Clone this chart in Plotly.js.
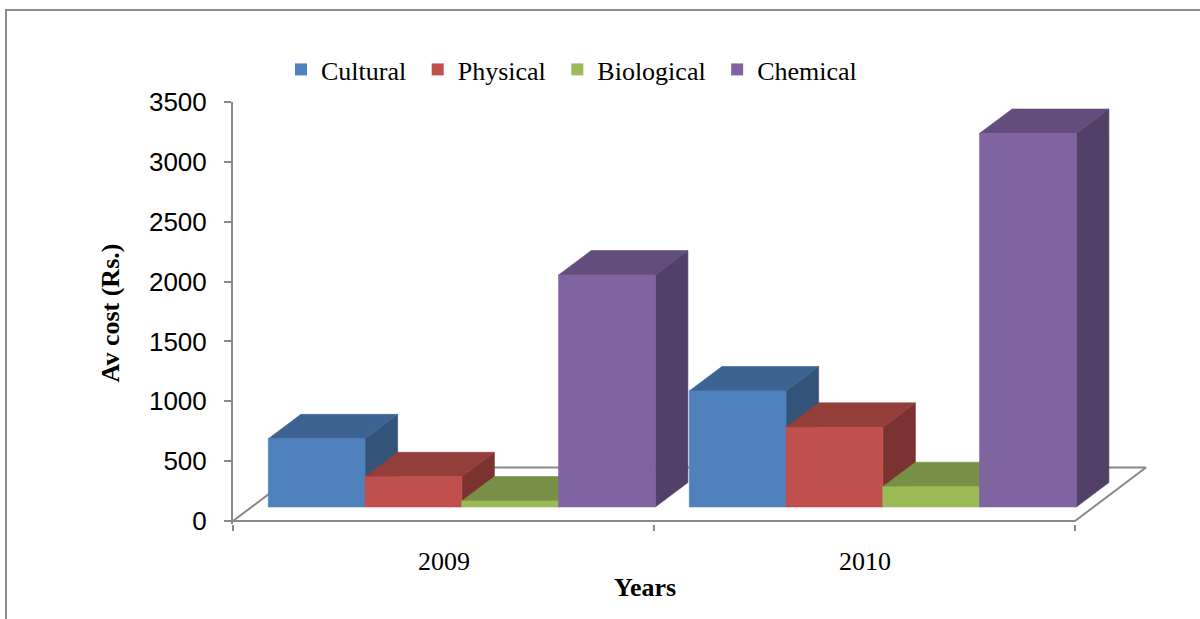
<!DOCTYPE html>
<html>
<head>
<meta charset="utf-8">
<script src="https://cdn.plot.ly/plotly-3.0.1.min.js"></script>
<style>
  html, body { margin: 0; padding: 0; background: #ffffff; }
  #chart { width: 1200px; height: 619px; }
</style>
</head>
<body>
<div id="chart"></div>
<script>
// ---------------- data ----------------
const categories = ['2009', '2010'];
const seriesNames = ['Cultural', 'Physical', 'Biological', 'Chemical'];
const cultural   = [570, 970];
const physical   = [253, 666];
const biological = [50, 170];
const chemical   = [1938, 3121];
const yTickValues = [0, 500, 1000, 1500, 2000, 2500, 3000, 3500];

const seriesValues = [cultural, physical, biological, chemical];

// ---------------- styles / layout geometry ----------------
const frontColors = ['#4F81BD', '#C0504D', '#9BBB59', '#8064A2'];
function shade(hex, k) {
  const r = Math.round(parseInt(hex.slice(1, 3), 16) * k);
  const g = Math.round(parseInt(hex.slice(3, 5), 16) * k);
  const b = Math.round(parseInt(hex.slice(5, 7), 16) * k);
  return 'rgb(' + r + ',' + g + ',' + b + ')';
}
const W = 1200, H = 619, ML = 233, MR = 40, MT = 102, MB = 95;
const plotW = W - ML - MR, plotH = H - MT - MB;
const catPx = 421;                 // pixels per category slot
const yMaxV = 3500;
const yPxPerUnit = 419 / yMaxV;
const xMax = plotW / catPx;
const yMin = -(plotH - 419) / yPxPerUnit;
const ux = px => px / catPx;
const uy = px => px / yPxPerUnit;

// oblique projection of depth
const floorDx = ux(71), floorDy = uy(53.5);
const frontDx = ux(18.3), frontDy = uy(14);
const depthDx = ux(32.6), depthDy = uy(24.4);
const gap = 17 / catPx;
const barW = (1 - 2 * gap) / seriesNames.length;
const nCat = categories.length;

const gray = '#898989';
const traces = [];

// legend entries (empty bars)
seriesNames.forEach((name, j) => {
  traces.push({
    type: 'bar', x: [null], y: [null], name: name + '\u00a0',
    marker: { color: frontColors[j] }, showlegend: true, hoverinfo: 'skip'
  });
});

// floor outline (front edge doubles as the category axis line)
traces.push({
  type: 'scatter', mode: 'lines', showlegend: false, hoverinfo: 'skip',
  x: [0, nCat, nCat + floorDx, floorDx, 0],
  y: [0, 0, floorDy, floorDy, 0],
  line: { color: gray, width: 2 }
});

function poly(xs, ys, color) {
  traces.push({
    type: 'scatter', mode: 'lines', fill: 'toself', showlegend: false,
    hoverinfo: 'skip',
    x: xs.concat([xs[0]]), y: ys.concat([ys[0]]),
    fillcolor: color, line: { width: 0.6, color: color }
  });
}

for (let i = 0; i < nCat; i++) {
  for (let j = 0; j < seriesNames.length; j++) {
    const v = seriesValues[j][i];
    const x0 = i + gap + j * barW + frontDx;
    const x1 = x0 + barW;
    const y0 = frontDy;
    const y1 = frontDy + v;
    // right side face
    poly([x1, x1 + depthDx, x1 + depthDx, x1],
         [y0, y0 + depthDy, y1 + depthDy, y1], shade(frontColors[j], 0.64));
    // top face
    poly([x0, x1, x1 + depthDx, x0 + depthDx],
         [y1, y1, y1 + depthDy, y1 + depthDy], shade(frontColors[j], 0.77));
    // front face
    poly([x0, x1, x1, x0], [y0, y0, y1, y1], frontColors[j]);
  }
}

const annotations = categories.map((c, i) => ({
  text: c, x: i + 0.5, xref: 'x', y: -(561 - (H - MB)) / plotH, yref: 'paper',
  yanchor: 'middle', xanchor: 'center', showarrow: false,
  font: { family: 'Liberation Serif', size: 26, color: '#000' }
}));
annotations.push({
  text: '<b>Years</b>', x: (645 - ML) / catPx, xref: 'x',
  y: -(587 - (H - MB)) / plotH, yref: 'paper',
  yanchor: 'middle', xanchor: 'center', showarrow: false,
  font: { family: 'Liberation Serif', size: 26, color: '#000' }
});

const layout = {
  width: W, height: H,
  margin: { l: ML, r: MR, t: MT, b: MB, pad: 0 },
  paper_bgcolor: '#ffffff', plot_bgcolor: 'rgba(0,0,0,0)',
  showlegend: true,
  legend: {
    orientation: 'h', x: (281 - ML) / plotW, xanchor: 'left',
    y: ((H - MB) - 69.5) / plotH, yanchor: 'middle',
    font: { family: 'Liberation Serif', size: 26, color: '#000' },
    bgcolor: 'rgba(0,0,0,0)', borderwidth: 0
  },
  xaxis: {
    range: [0, xMax], showgrid: false, zeroline: false, showline: false,
    tickmode: 'array', tickvals: Array.from({ length: nCat + 1 }, (_, k) => k),
    ticktext: Array.from({ length: nCat + 1 }, () => ''),
    ticks: 'outside', ticklen: 6, tickwidth: 2, tickcolor: gray,
    showticklabels: false, fixedrange: true
  },
  yaxis: {
    range: [yMin, yMaxV], showgrid: false, zeroline: false,
    showline: true, linecolor: gray, linewidth: 2,
    tickmode: 'array', tickvals: yTickValues, ticktext: yTickValues.map(String),
    ticks: 'outside', ticklen: 7, tickwidth: 2, tickcolor: gray,
    ticklabelstandoff: 12,
    tickfont: { family: 'Liberation Sans', size: 26, color: '#000' },
    title: { text: '<b>Av cost (Rs.)</b>', standoff: 22,
             font: { family: 'Liberation Serif', size: 26, color: '#000' } },
    fixedrange: true
  },
  annotations: annotations,
  shapes: [{
    type: 'rect', xref: 'paper', yref: 'paper',
    x0: (6 - ML) / plotW, x1: (1215 - ML) / plotW,
    y0: -(640 - (H - MB)) / plotH, y1: ((H - MB) - 10) / plotH,
    line: { color: '#8c8c8c', width: 2 }, fillcolor: 'rgba(0,0,0,0)'
  }]
};

Plotly.newPlot('chart', traces, layout, { staticPlot: true, displayModeBar: false });
</script>
</body>
</html>
